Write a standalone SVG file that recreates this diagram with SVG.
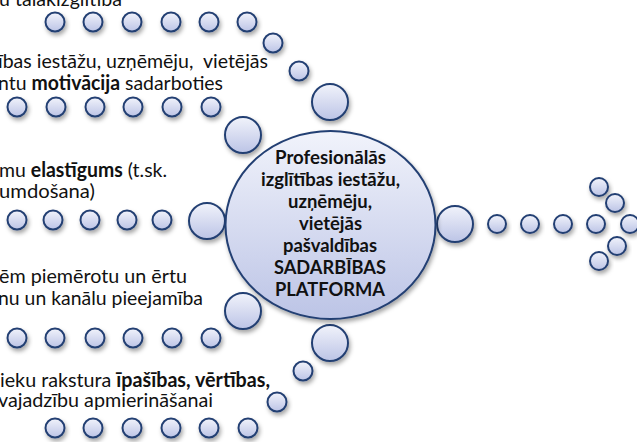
<svg xmlns="http://www.w3.org/2000/svg" width="637" height="442" viewBox="0 0 637 442">
<defs>
<linearGradient id="g" x1="0" y1="0" x2="0" y2="1">
<stop offset="0" stop-color="#f1f3fb"/>
<stop offset="1" stop-color="#bcc4e6"/>
</linearGradient>
<filter id="sh" x="-30%" y="-30%" width="160%" height="170%">
<feDropShadow dx="1.5" dy="3" stdDeviation="2" flood-color="#000" flood-opacity="0.35"/>
</filter>
</defs>
<style>
.c{fill:url(#g);stroke:#243f73;stroke-width:2;filter:url(#sh)}
.t{font-family:Lato,"Liberation Sans",sans-serif;font-size:20px;fill:#111;white-space:pre}
.b{font-weight:bold}
.m{font-family:Lato,"Liberation Sans",sans-serif;font-size:19px;font-weight:bold;fill:#111;text-anchor:middle}
</style>
<rect width="637" height="442" fill="#fff"/>
<g id="connectors">
<circle class="c" cx="55" cy="22" r="9.5"/>
<circle class="c" cx="93" cy="22" r="9.5"/>
<circle class="c" cx="132" cy="22" r="9.5"/>
<circle class="c" cx="171" cy="22" r="9.5"/>
<circle class="c" cx="209" cy="22" r="9.5"/>
<circle class="c" cx="247" cy="22" r="9.5"/>
<circle class="c" cx="273" cy="43" r="9.5"/>
<circle class="c" cx="299" cy="71" r="9.5"/>
<circle class="c" cx="330" cy="102" r="18"/>

<circle class="c" cx="17" cy="107" r="9.5"/>
<circle class="c" cx="56" cy="107" r="9.5"/>
<circle class="c" cx="95" cy="107" r="9.5"/>
<circle class="c" cx="133" cy="107" r="9.5"/>
<circle class="c" cx="172" cy="107" r="9.5"/>
<circle class="c" cx="211" cy="107" r="9.5"/>
<circle class="c" cx="243" cy="135" r="18"/>

<circle class="c" cx="17" cy="220" r="9.5"/>
<circle class="c" cx="53" cy="220" r="9.5"/>
<circle class="c" cx="90" cy="220" r="9.5"/>
<circle class="c" cx="127" cy="220" r="9.5"/>
<circle class="c" cx="162" cy="220" r="9.5"/>
<circle class="c" cx="207" cy="221" r="18"/>

<circle class="c" cx="17" cy="338" r="9.5"/>
<circle class="c" cx="55" cy="338" r="9.5"/>
<circle class="c" cx="95" cy="338" r="9.5"/>
<circle class="c" cx="133" cy="338" r="9.5"/>
<circle class="c" cx="172" cy="338" r="9.5"/>
<circle class="c" cx="211" cy="338" r="9.5"/>
<circle class="c" cx="243" cy="311" r="18"/>

<circle class="c" cx="55" cy="428" r="9.5"/>
<circle class="c" cx="93" cy="428" r="9.5"/>
<circle class="c" cx="132" cy="428" r="9.5"/>
<circle class="c" cx="171" cy="428" r="9.5"/>
<circle class="c" cx="209" cy="428" r="9.5"/>
<circle class="c" cx="248" cy="428" r="9.5"/>
<circle class="c" cx="277" cy="402" r="9.5"/>
<circle class="c" cx="303" cy="371" r="9.5"/>
<circle class="c" cx="330" cy="343" r="18"/>

<circle class="c" cx="455" cy="224" r="18"/>
<circle class="c" cx="497" cy="224" r="9"/>
<circle class="c" cx="530" cy="224" r="9"/>
<circle class="c" cx="563" cy="224" r="9"/>
<circle class="c" cx="596" cy="224" r="9"/>
<circle class="c" cx="630" cy="224" r="9"/>
<circle class="c" cx="599" cy="187" r="9"/>
<circle class="c" cx="615" cy="203" r="9"/>
<circle class="c" cx="617" cy="246" r="9"/>
<circle class="c" cx="599" cy="261" r="9"/>
</g>
<g id="center">
<ellipse class="c" cx="330.5" cy="225" rx="105" ry="94"/>
<text class="m" x="330.5" y="164" textLength="111" lengthAdjust="spacingAndGlyphs">Profesionālās</text>
<text class="m" x="330.5" y="186" textLength="139" lengthAdjust="spacingAndGlyphs">izglītības iestāžu,</text>
<text class="m" x="330" y="208" textLength="84" lengthAdjust="spacingAndGlyphs">uzņēmēju,</text>
<text class="m" x="330.5" y="230" textLength="63" lengthAdjust="spacingAndGlyphs">vietējās</text>
<text class="m" x="330" y="252" textLength="94" lengthAdjust="spacingAndGlyphs">pašvaldības</text>
<text class="m" x="330" y="274" textLength="112" lengthAdjust="spacingAndGlyphs">SADARBĪBAS</text>
<text class="m" x="330" y="296" textLength="110" lengthAdjust="spacingAndGlyphs">PLATFORMA</text>
</g>
<g id="labels">
<text class="t" x="-1" y="6" textLength="123" lengthAdjust="spacingAndGlyphs">u talākizglītība</text>
<text class="t" x="-2" y="68" textLength="270" lengthAdjust="spacingAndGlyphs">ības iestāžu, uzņēmēju,  vietējās</text>
<text class="t" x="-2" y="90" textLength="225" lengthAdjust="spacingAndGlyphs">ntu <tspan class="b">motivācija</tspan> sadarboties</text>
<text class="t" x="-1" y="177" textLength="168" lengthAdjust="spacingAndGlyphs">mu <tspan class="b">elastīgums</tspan> (t.sk.</text>
<text class="t" x="-1" y="198" textLength="96" lengthAdjust="spacingAndGlyphs">umdošana)</text>
<text class="t" x="-1" y="283" textLength="188" lengthAdjust="spacingAndGlyphs">ēm piemērotu un ērtu</text>
<text class="t" x="-2" y="305" textLength="205" lengthAdjust="spacingAndGlyphs">nu un kanālu pieejamība</text>
<text class="t" x="0" y="387" textLength="270" lengthAdjust="spacingAndGlyphs">ieku rakstura <tspan class="b">īpašības, vērtības,</tspan></text>
<text class="t" x="-2" y="407" textLength="215" lengthAdjust="spacingAndGlyphs">vajadzību apmierināšanai</text>
</g>
</svg>
